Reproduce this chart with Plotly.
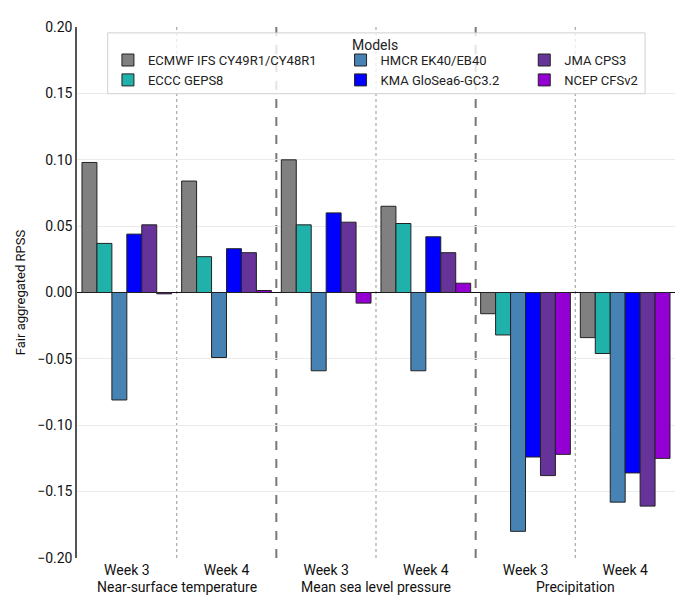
import plotly.graph_objects as go

# categories: variable x week
weeks = ["Week 3", "Week 4", "Week 3", "Week 4", "Week 3", "Week 4"]
variables = ["Near-surface temperature", "Mean sea level pressure", "Precipitation"]

# fair aggregated RPSS per model (T w3, T w4, MSLP w3, MSLP w4, P w3, P w4)
ecmwf = [0.098, 0.084, 0.100, 0.065, -0.016, -0.034]
eccc = [0.037, 0.027, 0.051, 0.052, -0.032, -0.046]
hmcr = [-0.081, -0.049, -0.059, -0.059, -0.180, -0.158]
kma = [0.044, 0.033, 0.060, 0.042, -0.124, -0.136]
jma = [0.051, 0.030, 0.053, 0.030, -0.138, -0.161]
ncep = [-0.001, 0.0015, -0.008, 0.007, -0.122, -0.125]

models = ["ECMWF IFS CY49R1/CY48R1", "ECCC GEPS8", "HMCR EK40/EB40",
          "KMA GloSea6-GC3.2", "JMA CPS3", "NCEP CFSv2"]
values = [ecmwf, eccc, hmcr, kma, jma, ncep]
colores = ["#808080", "#20b2aa", "#4682b4", "#0000ff", "#663399", "#9400d3"]
legends = ["legend", "legend", "legend2", "legend2", "legend3", "legend3"]

x = list(range(len(weeks)))

fig = go.Figure()
for name, vals, col, leg in zip(models, values, colores, legends):
    fig.add_trace(go.Bar(x=x, y=vals, name=name, legend=leg,
                         marker=dict(color=col, line=dict(color="#222222", width=1))))

# separators between weeks (dotted) and between variables (dashed)
for xv in [0.5, 2.5, 4.5]:
    fig.add_shape(type="line", x0=xv, x1=xv, y0=0, y1=1, yref="paper",
                  line=dict(color="#a8a8a8", width=1.2, dash="dot"), layer="below")
for xv in [1.5, 3.5]:
    fig.add_shape(type="line", x0=xv, x1=xv, y0=0, y1=1, yref="paper",
                  line=dict(color="#777777", width=2, dash="dash"), layer="below")

# legend frame + title
fig.add_shape(type="rect", xref="paper", yref="paper", x0=0.0513, x1=0.950, y0=0.8744, y1=0.9889,
              fillcolor="rgba(255,255,255,0.8)", line=dict(color="#d0d0d0", width=1), layer="above")
fig.add_annotation(text="Models", xref="paper", yref="paper", x=0.499, y=0.984,
                   showarrow=False, font=dict(size=14, color="#222222"))

for i, var in enumerate(variables):
    fig.add_annotation(text=var, x=2 * i + 0.5, xref="x", y=0, yref="paper", yanchor="top",
                       yshift=-19, showarrow=False, font=dict(size=14, color="#111111"))

leg_style = dict(orientation="v", xanchor="left", yanchor="top", y=0.966,
                 bgcolor="rgba(0,0,0,0)", font=dict(size=13, color="#222222"),
                 tracegroupgap=0)

# page has an 8px body margin, so the figure is a bit smaller than the window
fig.update_layout(
    width=682, height=596,
    margin=dict(l=68, r=15, t=11, b=46),
    font=dict(family="Roboto", size=14, color="#111111"),
    plot_bgcolor="white", paper_bgcolor="white",
    barmode="group", bargap=0.1, bargroupgap=0,
    legend=dict(x=(107 - 76) / 599, **leg_style),
    legend2=dict(x=(340 - 76) / 599, **leg_style),
    legend3=dict(x=(524 - 76) / 599, **leg_style),
    xaxis=dict(range=[-0.5, 5.5], tickvals=x, ticktext=weeks, ticks="",
               showgrid=False, zeroline=False, showline=False,
               ticklabelstandoff=2, tickfont=dict(size=14)),
    yaxis=dict(range=[-0.2001, 0.2001], dtick=0.05, tickformat=".2f", ticks="",
               showgrid=True, gridcolor="#ebebeb", gridwidth=1,
               zeroline=True, zerolinecolor="#111111", zerolinewidth=1.2,
               showline=True, linecolor="#555555", linewidth=1.5,
               layer="above traces",
               title=dict(text="Fair aggregated RPSS", font=dict(size=13), standoff=9)),
)

fig.write_html("out.html")
